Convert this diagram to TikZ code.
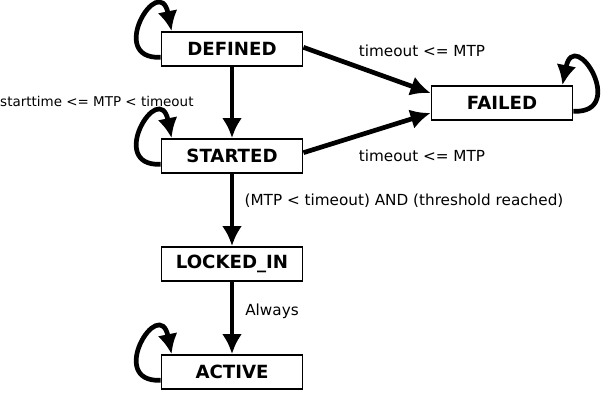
\documentclass[tikz,border=0pt]{standalone}
\usepackage{fontspec}
\setmainfont{DejaVu Sans}
\usetikzlibrary{arrows.meta,positioning}

\begin{document}
\begin{tikzpicture}[
    x=0.03cm, y=-0.03cm,
    state/.style={rectangle, draw, line width=1.6pt, minimum width=4.23cm, minimum height=1.02cm, font=\fontsize{15.5}{18}\selectfont\bfseries},
    line/.style={draw, line width=4pt, -{Latex[length=6mm,width=6mm]}},
    lbl/.style={font=\fontsize{13}{15}\selectfont}
]
    \useasboundingbox (0,0) rectangle (601,406);
    \node [state] (defined) at (232,49) {DEFINED};
    \node [state] (started) at (232,156) {STARTED};
    \node [state] (locked) at (232,264) {LOCKED\_IN};
    \node [state] (active) at (232,372) {ACTIVE};
    \node [state] (failed) at (502,103) {FAILED};

    % self loops
    \foreach \x in {defined, started, active} {
        \draw [line] ([yshift=-0.25cm]\x.west) .. controls +(-55,2) and +(-12,-60) .. ([xshift=0.33cm]\x.north west);
    }
    \draw [line] ([yshift=-0.25cm]failed.east) .. controls +(55,2) and +(12,-60) .. ([xshift=-0.33cm]failed.north east);

    \draw [line] (defined) -- (started);
    \draw [line] (started) -- (locked);
    \draw [line] (locked) -- (active);
    \draw [line] ([yshift=0.05cm]defined.east) -- ([yshift=0.3cm]failed.west);
    \draw [line] ([yshift=0.1cm]started.east) -- ([yshift=-0.3cm]failed.west);

    \node [lbl] (l1) at (422,51) {timeout <= MTP};
    \node [lbl, anchor=west, inner sep=0pt, font=\fontsize{11.5}{13}\selectfont] (l2) at (0,101) {starttime <= MTP < timeout};
    \node [lbl] (l3) at (422,156) {timeout <= MTP};
    \node [lbl] (l4) at (404,201) {(MTP < timeout) AND (threshold reached)};
    \node [lbl] (l5) at (272,311) {Always};
\end{tikzpicture}
\end{document}
